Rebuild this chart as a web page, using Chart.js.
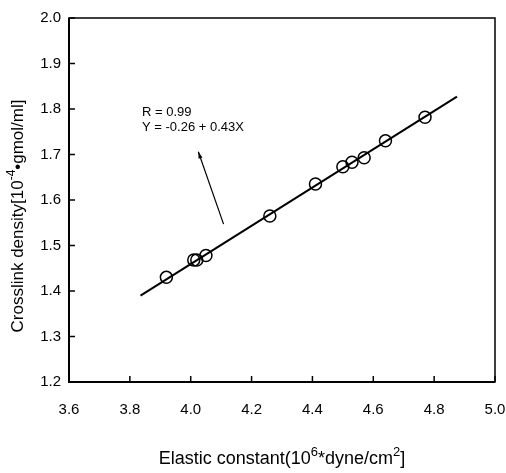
<!DOCTYPE html>
<html>
<head>
<meta charset="utf-8">
<script src="https://cdn.jsdelivr.net/npm/chart.js@4/dist/chart.umd.min.js"></script>
<style>
  html, body { margin: 0; padding: 0; background: #fff; overflow: hidden; }
  #wrap { width: 506px; height: 473px; }
</style>
</head>
<body>
<div id="wrap"><canvas id="crossChart"></canvas></div>
<script>
// measured points
const elastic = [3.92, 4.01, 4.02, 4.05, 4.26, 4.41, 4.50, 4.53, 4.57, 4.64, 4.77];
const density = [1.43, 1.468, 1.468, 1.478, 1.565, 1.635, 1.673, 1.683, 1.693, 1.730, 1.782];

// regression line ends, as drawn
const fitX = [3.835, 4.875];
const fitY = [1.390, 1.827];

// arrow pointing at the label
const arrowX = [4.108, 4.025];
const arrowY = [1.547, 1.706];

const xTicks = [3.6, 3.8, 4.0, 4.2, 4.4, 4.6, 4.8, 5.0];
const yTicks = [1.2, 1.3, 1.4, 1.5, 1.6, 1.7, 1.8, 1.9, 2.0];

const noteLines = ['R = 0.99', 'Y = -0.26 + 0.43X'];
const noteAt = { x: 3.84, y: 1.793, dy: -0.033 };

// axis titles, pieces flagged true are superscripts
const xTitle = [['Elastic constant(10', false], ['6', true], ['*dyne/cm', false], ['2', true], [']', false]];
const yTitle = [['Crosslink density[10', false], ['-4', true], ['•gmol/ml]', false]];

const FONT = '"Liberation Sans", Arial, sans-serif';

function pairs(xs, ys) {
    return xs.map((x, i) => ({ x: x, y: ys[i] }));
}

function drawRich(ctx, parts, size) {
    const big = size + 'px ' + FONT, small = Math.round(size * 0.7) + 'px ' + FONT;
    let total = 0;
    parts.forEach(p => { ctx.font = p[1] ? small : big; total += ctx.measureText(p[0]).width; });
    let x = -total / 2;
    ctx.textAlign = 'left';
    ctx.textBaseline = 'alphabetic';
    parts.forEach(p => {
        ctx.font = p[1] ? small : big;
        ctx.fillText(p[0], x, p[1] ? -size * 0.45 : 0);
        x += ctx.measureText(p[0]).width;
    });
}

// frame, inward ticks, arrow head, text note and axis titles
const decorations = {
    id: 'decorations',
    afterDatasetsDraw(chart) {
        const ctx = chart.ctx;
        const a = chart.chartArea;
        const xs = chart.scales.x, ys = chart.scales.y;
        ctx.save();
        ctx.strokeStyle = '#000';
        ctx.fillStyle = '#000';
        ctx.lineWidth = 1.5;
        ctx.strokeRect(a.left, a.top, a.right - a.left, a.bottom - a.top);
        ctx.lineWidth = 2;
        ctx.beginPath();
        ctx.moveTo(a.left, a.top);
        ctx.lineTo(a.left, a.bottom);
        ctx.lineTo(a.right, a.bottom);
        ctx.stroke();

        ctx.lineWidth = 1.5;
        xTicks.forEach(v => {
            const px = xs.getPixelForValue(v);
            ctx.beginPath();
            ctx.moveTo(px, a.bottom);
            ctx.lineTo(px, a.bottom - 6);
            ctx.stroke();
        });
        yTicks.forEach(v => {
            const py = ys.getPixelForValue(v);
            ctx.beginPath();
            ctx.moveTo(a.left, py);
            ctx.lineTo(a.left + 6, py);
            ctx.stroke();
        });

        // arrow head
        const meta = chart.getDatasetMeta(2);
        const p0 = meta.data[0], p1 = meta.data[1];
        const ang = Math.atan2(p1.y - p0.y, p1.x - p0.x);
        const len = 7, wid = 0.3;
        ctx.beginPath();
        ctx.moveTo(p1.x, p1.y);
        ctx.lineTo(p1.x - len * Math.cos(ang - wid), p1.y - len * Math.sin(ang - wid));
        ctx.lineTo(p1.x - len * Math.cos(ang + wid), p1.y - len * Math.sin(ang + wid));
        ctx.closePath();
        ctx.fill();

        ctx.font = '13px ' + FONT;
        ctx.textBaseline = 'middle';
        ctx.textAlign = 'left';
        noteLines.forEach((t, i) => {
            ctx.fillText(t, xs.getPixelForValue(noteAt.x), ys.getPixelForValue(noteAt.y + i * noteAt.dy));
        });

        // x title
        ctx.save();
        ctx.translate((a.left + a.right) / 2, a.bottom + 82);
        drawRich(ctx, xTitle, 18);
        ctx.restore();

        // y title
        ctx.save();
        ctx.translate(23, (a.top + a.bottom) / 2 + 16);
        ctx.rotate(-Math.PI / 2);
        drawRich(ctx, yTitle, 17);
        ctx.restore();

        ctx.restore();
    }
};

new Chart(document.getElementById('crossChart').getContext('2d'), {
    type: 'scatter',
    data: {
        datasets: [
            {
                label: 'fit',
                type: 'line',
                data: pairs(fitX, fitY),
                borderColor: '#000',
                borderWidth: 2,
                pointRadius: 0,
                fill: false
            },
            {
                label: 'data',
                data: pairs(elastic, density),
                pointStyle: 'circle',
                pointRadius: 6,
                pointBorderWidth: 1.5,
                pointBorderColor: '#000',
                pointBackgroundColor: 'rgba(0,0,0,0)'
            },
            {
                label: 'arrow',
                type: 'line',
                data: pairs(arrowX, arrowY),
                borderColor: '#000',
                borderWidth: 1.2,
                pointRadius: 0,
                fill: false
            }
        ]
    },
    options: {
        responsive: true,
        maintainAspectRatio: false,
        animation: false,
        events: [],
        layout: { padding: { top: 18, right: 11, left: 0, bottom: 0 } },
        plugins: {
            legend: { display: false },
            tooltip: { enabled: false }
        },
        scales: {
            x: {
                type: 'linear',
                min: 3.6,
                max: 5.0,
                afterBuildTicks: s => { s.ticks = xTicks.map(v => ({ value: v })); },
                afterFit: s => { s.height = 91; s.paddingLeft = 0; s.paddingRight = 0; },
                grid: { display: false, drawTicks: false },
                border: { display: false },
                ticks: {
                    color: '#000',
                    padding: 19,
                    maxRotation: 0,
                    font: { family: FONT, size: 15 },
                    callback: v => v.toFixed(1)
                }
            },
            y: {
                type: 'linear',
                min: 1.2,
                max: 2.0,
                afterBuildTicks: s => { s.ticks = yTicks.map(v => ({ value: v })); },
                afterFit: s => { s.width = 69; s.paddingTop = 0; s.paddingBottom = 0; },
                grid: { display: false, drawTicks: false },
                border: { display: false },
                ticks: {
                    color: '#000',
                    padding: 8,
                    font: { family: FONT, size: 15 },
                    callback: v => v.toFixed(1)
                }
            }
        }
    },
    plugins: [decorations]
});
</script>
</body>
</html>
